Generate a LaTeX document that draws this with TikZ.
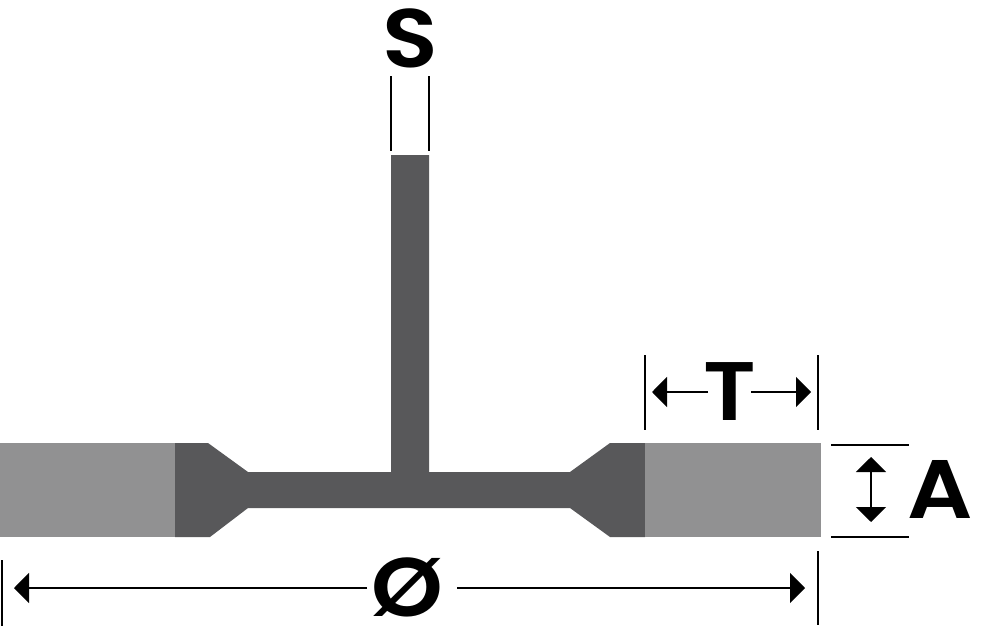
\documentclass[tikz,border=0pt]{standalone}
\usepackage{fontspec}
\setmainfont[BoldFont={Poppins SemiBold},BoldFeatures={FakeStretch=1.1}]{Poppins}
\usetikzlibrary{arrows.meta}
\definecolor{blade}{HTML}{58585A}
\definecolor{rim}{HTML}{919192}
\begin{document}
\begin{tikzpicture}[x=1pt,y=-1pt,
  lbl/.style={font=\fontsize{83}{83}\selectfont\bfseries,inner sep=0pt},
  tick/.style={line width=2pt},
  dim/.style={line width=2pt,-{Triangle[length=15pt,width=30pt]}}]
\useasboundingbox (0,0) rectangle (992,626);
% blade
\fill[blade] (175,443) -- (208,443) -- (248,472) -- (391,472) -- (391,155) -- (429,155) -- (429,472) -- (570,472) -- (610,443) -- (645,443) -- (645,537) -- (610,537) -- (570,508) -- (248,508) -- (210,537) -- (175,537) -- cycle;
\fill[rim] (0,443) rectangle (175,537);
\fill[rim] (645,443) rectangle (821,537);
% labels
\node[lbl] (S) at (410,38) {S};
\node[lbl] (T) at (730,392) {T};
\node[lbl] (A) at (940,489) {A};
\node[lbl] (O) at (407,587) {Ø};
% ticks
\coordinate (Sa) at (390.5,76);
\coordinate (Sb) at (390.5,151);
\coordinate (Sc) at (428.5,76);
\coordinate (Sd) at (428.5,151);
\coordinate (Ta) at (645,355);
\coordinate (Tb) at (645,430);
\coordinate (Tc) at (818,355);
\coordinate (Td) at (818,430);
\coordinate (Aa) at (831,444.5);
\coordinate (Ab) at (909,444.5);
\coordinate (Ac) at (831,536.5);
\coordinate (Ad) at (909,536.5);
\coordinate (Oa) at (2,560);
\coordinate (Ob) at (2,626);
\coordinate (Oc) at (818,551);
\coordinate (Od) at (818,625);
\draw[tick] (Sa) -- (Sb);
\draw[tick] (Sc) -- (Sd);
\draw[tick] (Ta) -- (Tb);
\draw[tick] (Tc) -- (Td);
\draw[tick] (Aa) -- (Ab);
\draw[tick] (Ac) -- (Ad);
\draw[tick] (Oa) -- (Ob);
\draw[tick] (Oc) -- (Od);
% arrows
\coordinate (Tl) at (652,392);
\coordinate (Tr) at (811,392);
\coordinate (Tm) at (708,392);
\coordinate (Tn) at (751,392);
\draw[dim] (Tm) -- (Tl);
\draw[dim] (Tn) -- (Tr);
\coordinate (Au) at (871,457);
\coordinate (Ao) at (871,522);
\draw[dim,{Triangle[length=15pt,width=30pt]}-{Triangle[length=15pt,width=30pt]}] (Au) -- (Ao);
\coordinate (Ol) at (14,588);
\coordinate (Or) at (805,588);
\coordinate (Om) at (367,588);
\coordinate (On) at (457,588);
\draw[dim] (Om) -- (Ol);
\draw[dim] (On) -- (Or);
\end{tikzpicture}
\end{document}
